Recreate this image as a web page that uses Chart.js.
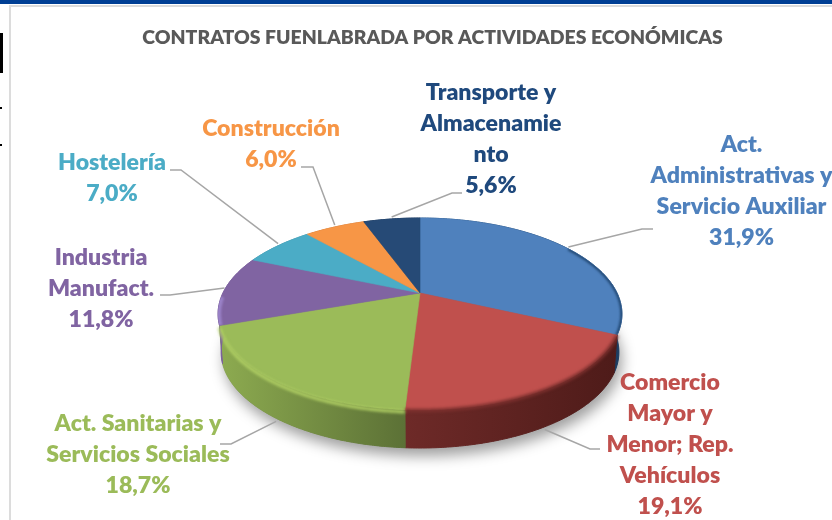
<!DOCTYPE html>
<html>
<head>
<meta charset="utf-8">
<style>
html,body{margin:0;padding:0;background:#fff;overflow:hidden}
#wrap{position:relative;width:832px;height:520px}
canvas{display:block;filter:blur(0.4px)}
</style>
<script src="https://cdn.jsdelivr.net/npm/chart.js@4/dist/chart.umd.min.js"></script>
</head>
<body>
<div id="wrap"><canvas id="c" width="832" height="520"></canvas></div>
<script>
const chartTitle = 'CONTRATOS FUENLABRADA POR ACTIVIDADES ECONÓMICAS';
const categories = ['Act. Administrativas y Servicio Auxiliar','Comercio Mayor y Menor; Rep. Vehículos','Act. Sanitarias y Servicios Sociales','Industria Manufact.','Hostelería','Construcción','Transporte y Almacenamiento'];
const categoryLines = [
  ['Act.','Administrativas y','Servicio Auxiliar'],
  ['Comercio','Mayor y','Menor; Rep.','Vehículos'],
  ['Act. Sanitarias y','Servicios Sociales'],
  ['Industria','Manufact.'],
  ['Hostelería'],
  ['Construcción'],
  ['Transporte y','Almacenamie','nto']
];
const shares = [31.9,19.1,18.7,11.8,7.0,6.0,5.6];
const faceColors = ['#4f81bd','#c0504d','#9bbb59','#8064a2','#4bacc6','#f79646','#264a76'];
const labelColors = ['#4f81bd','#c0504d','#9bbb59','#8064a2','#4bacc6','#f79646','#1f497d'];

// wall shading per slice (left → right); rim bevel: colour, part of the arc, offset, width
const wallShades = [['#2c5a8c','#1c3c60'],['#6e2a28','#4e1b19'],['#8dab50','#5c7136'],['#7a5f9c','#7a5f9c'],['#3f93a9','#3f93a9'],['#d07c38','#d07c38'],['#1d3a5e','#1d3a5e']];
const bevels = [
  {c:'#234a75',from:0.5,to:1,dy:0,w:3.5,blur:1,clip:true},
  {c:'#7d302e',from:0,to:1,dy:0.5,w:3.5,blur:1.8,clip:false},
  {c:'#b2d165',from:0,to:1,dy:2,w:3.2,blur:1.4,clip:false},
  {c:'#9a82c8',from:0,to:0.4,dy:0,w:6,blur:1,clip:true},
  null,null,null
];

// projection of the round pie on the tilted plane
const TILT = {ax:0.868, ay:0.4026, k:0.219, depth:38, baseScale:0.985};
// label layout: centre x, first line middle y; leader elbow and end
const LINE_H = 30.8;
const labelPos = [[741.5,145],[670,383],[138,424],[101,258],[112,163],[271,129],[491,93]];
const leaderElbow = [[642,229],[590,449],[231,444],[170,295],[181,170],[313,167],[452,193]];
const leaderEnd = [[653,229],[600,449],[220,444],[160,295],[170,170],[301,167],[462,193]];

function project(el, theta, s, dy){
  const R = el.outerRadius, u = Math.sin(theta), v = Math.cos(theta), w = 1 + TILT.k*v;
  return [el.x + s*TILT.ax*R*u/w, el.y - TILT.ay*R*v/w + dy];
}
function arcPoints(el, s, dy, from=0, to=1){
  const a0 = el.startAngle + Math.PI/2, b0 = el.endAngle + Math.PI/2;
  const a = a0+(b0-a0)*from, b = a0+(b0-a0)*to, pts = [];
  const n = Math.max(2, Math.ceil((b-a)/0.01));
  for(let i=0;i<=n;i++) pts.push(project(el, a+(b-a)*i/n, s, dy));
  return pts;
}
function trace(ctx, pts, start){
  pts.forEach((p,i)=>{ if(i===0 && start) ctx.moveTo(p[0],p[1]); else ctx.lineTo(p[0],p[1]); });
}

const pie3d = {
  id:'pie3d',
  afterLayout(chart){ chart.titleBlock.left += 25; },
  beforeDraw(chart){
    const ctx = chart.ctx;
    ctx.save();
    ctx.fillStyle='#ffffff'; ctx.fillRect(0,0,832,520);
    ctx.fillStyle='#003f94'; ctx.fillRect(0,0,832,4);
    ctx.fillStyle='#dcdcdc'; ctx.fillRect(9,5,823,2); ctx.fillRect(9,5,2,515);
    ctx.fillStyle='#000000'; ctx.fillRect(0,33,3,40); ctx.fillRect(0,107,2,2); ctx.fillRect(0,144,2,2);
    ctx.restore();
  },
  beforeDatasetsDraw(chart){
    const ctx = chart.ctx, els = chart.getDatasetMeta(0).data;
    ctx.save();
    // soft shadow below the solid
    ctx.save();
    ctx.shadowColor='rgba(0,0,0,0.38)'; ctx.shadowBlur=14; ctx.shadowOffsetY=8; ctx.shadowOffsetX=3;
    ctx.fillStyle='#666';
    ctx.beginPath();
    els.forEach((el,i)=>trace(ctx, arcPoints(el,TILT.baseScale,TILT.depth), i===0));
    ctx.closePath(); ctx.fill();
    ctx.restore();
    // walls
    els.forEach((el,i)=>{
      const top = arcPoints(el,1,0), base = arcPoints(el,TILT.baseScale,TILT.depth);
      const xs = top.map(p=>p[0]), g = ctx.createLinearGradient(Math.min(...xs),0,Math.max(...xs),0);
      g.addColorStop(0,wallShades[i][0]); g.addColorStop(1,wallShades[i][1]);
      ctx.fillStyle=g; ctx.strokeStyle=g; ctx.lineWidth=1;
      ctx.beginPath(); trace(ctx,top,true); trace(ctx,base.slice().reverse(),false); ctx.closePath();
      ctx.fill(); ctx.stroke();
    });
    // faces
    els.forEach((el,i)=>{
      ctx.fillStyle=faceColors[i]; ctx.strokeStyle=faceColors[i]; ctx.lineWidth=0.6;
      ctx.beginPath(); ctx.moveTo(el.x,el.y); trace(ctx,arcPoints(el,1,0),false); ctx.closePath();
      ctx.fill(); ctx.stroke();
    });
    // bevel along the rim
    els.forEach((el,i)=>{
      const b = bevels[i];
      if(!b) return;
      ctx.save();
      if(b.clip){
        ctx.beginPath(); ctx.moveTo(el.x,el.y); trace(ctx,arcPoints(el,1,0),false); ctx.closePath(); ctx.clip();
      }
      ctx.filter='blur('+b.blur+'px)'; ctx.strokeStyle=b.c; ctx.lineWidth=b.w; ctx.lineCap='butt';
      ctx.beginPath(); trace(ctx,arcPoints(el,1,b.dy,b.from,b.to),true); ctx.stroke();
      ctx.restore();
    });
    // leader lines
    ctx.strokeStyle='#a6a6a6'; ctx.lineWidth=1.5;
    els.forEach((el,i)=>{
      const mid = (el.startAngle+el.endAngle)/2 + Math.PI/2;
      const front = Math.cos(mid) < -0.3;
      const p = project(el, mid, 1, front ? TILT.depth+2 : -2);
      ctx.beginPath(); ctx.moveTo(leaderEnd[i][0],leaderEnd[i][1]); ctx.lineTo(leaderElbow[i][0],leaderElbow[i][1]); ctx.lineTo(p[0],p[1]); ctx.stroke();
    });
    // labels
    ctx.font='800 23.1px Lato'; ctx.textAlign='center'; ctx.textBaseline='middle';
    categoryLines.forEach((lines,i)=>{
      ctx.fillStyle=labelColors[i];
      const all = lines.concat([shares[i].toFixed(1).replace('.',',')+'%']);
      all.forEach((t,j)=>ctx.fillText(t,labelPos[i][0],labelPos[i][1]+j*LINE_H));
    });
    ctx.restore();
    return false;
  }
};

new Chart(document.getElementById('c'),{
  type:'pie',
  data:{labels:categories,datasets:[{data:shares,backgroundColor:faceColors,borderWidth:0}]},
  plugins:[pie3d],
  options:{
    responsive:false,animation:false,
    layout:{padding:{left:8,right:0,top:0,bottom:0}},
    plugins:{
      legend:{display:false},tooltip:{enabled:false},
      title:{display:true,text:chartTitle,color:'#595959',font:{family:'Lato',size:19.4,weight:800,lineHeight:1.2},padding:{top:26,bottom:16.7}}
    }
  }
});
</script>
</body>
</html>
